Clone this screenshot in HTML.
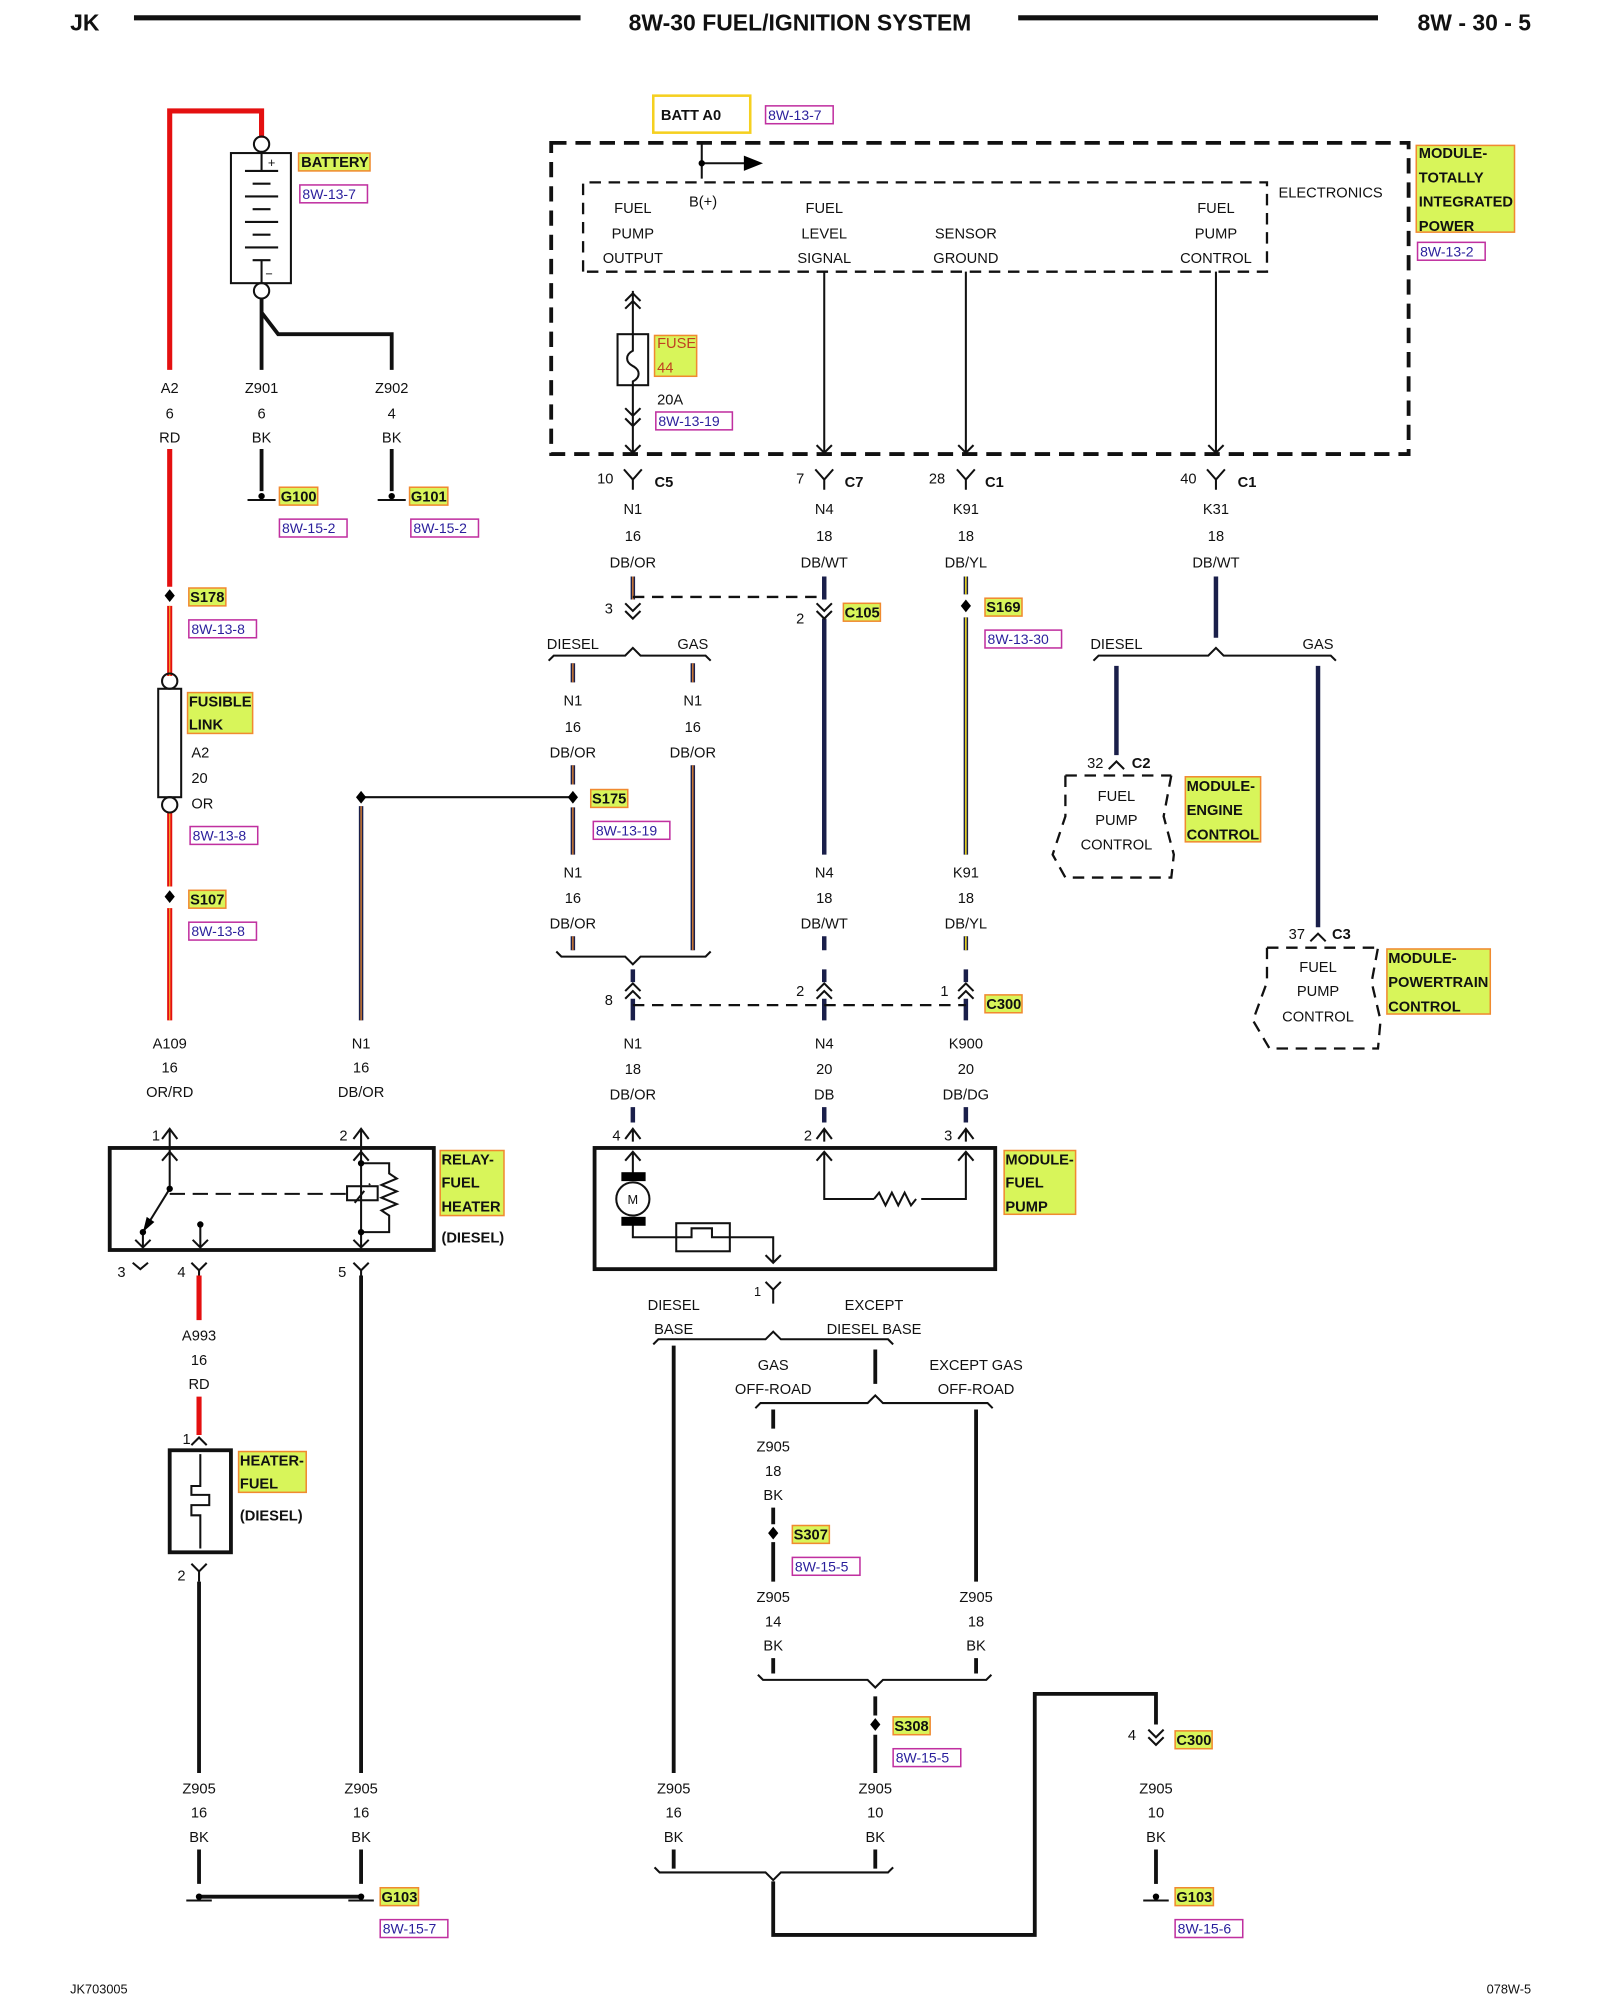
<!DOCTYPE html>
<html><head><meta charset="utf-8"><style>
html,body{margin:0;padding:0;background:#fff}
svg{display:block}
text{font-family:"Liberation Sans",sans-serif;font-size:11.5px;fill:#111}
.c{text-anchor:middle}
.b{font-weight:bold}
.r{fill:#2a1f9c;font-size:11px}
.w{fill:none;stroke:#111;stroke-width:3}
.t{fill:none;stroke:#111;stroke-width:1.6}
.d{fill:none;stroke:#111;stroke-width:3;stroke-dasharray:12 7}
.ds{fill:none;stroke:#111;stroke-width:1.8;stroke-dasharray:9 6}
.red{fill:none;stroke:#e41010;stroke-width:4}
.nv{fill:none;stroke:#1a1f4a;stroke-width:3.5}
.hl{fill:#d8f55a;stroke:#f08a30;stroke-width:1.2}
.rb{fill:none;stroke:#c030a0;stroke-width:1.2}
</style></head><body>
<svg width="1600" height="2000" viewBox="0 0 1254 1568" preserveAspectRatio="none" xmlns="http://www.w3.org/2000/svg">
<!-- header -->
<text x="55" y="24" class="b" style="font-size:18px">JK</text>
<line x1="105" y1="14" x2="455" y2="14" stroke="#111" stroke-width="4"/>
<text x="627" y="24" class="b c" style="font-size:18px">8W-30 FUEL/IGNITION SYSTEM</text>
<line x1="798" y1="14" x2="1080" y2="14" stroke="#111" stroke-width="4"/>
<text x="1200" y="24" class="b" text-anchor="end" style="font-size:18px">8W - 30 - 5</text>
<text x="55" y="1563" style="font-size:10px">JK703005</text>
<text x="1200" y="1563" text-anchor="end" style="font-size:10px">078W-5</text>

<!-- battery -->
<path class="red" d="M133 290 V87 H205 V108"/>
<circle cx="205" cy="113" r="6" class="t" fill="#fff"/>
<rect x="181" y="120" width="47" height="102" class="t"/>
<path class="t" d="M205 119 V134 M192 134 H218 M198 144 H212 M192 154 H218 M198 164 H212 M192 174 H218 M198 184 H212 M192 194 H218 M198 204 H212 M205 204 V222"/>
<text x="210" y="131" style="font-size:10px">+</text><text x="208" y="218" style="font-size:10px">−</text>
<circle cx="205" cy="228" r="6" class="t" fill="#fff"/>
<path class="w" d="M205 234 V290 M205 245 L218 262 H307 V290"/>
<rect x="234" y="120" width="56" height="14" class="hl"/><text x="236" y="131" class="b">BATTERY</text>
<rect x="235" y="145" width="53" height="14" class="rb"/><text x="237" y="156" class="r">8W-13-7</text>
<text x="133" y="308" class="c">A2</text><text x="133" y="328" class="c">6</text><text x="133" y="347" class="c">RD</text>
<text x="205" y="308" class="c">Z901</text><text x="205" y="328" class="c">6</text><text x="205" y="347" class="c">BK</text>
<text x="307" y="308" class="c">Z902</text><text x="307" y="328" class="c">4</text><text x="307" y="347" class="c">BK</text>
<path class="w" d="M205 352 V385 M307 352 V385"/>
<path class="t" d="M194 392 H216 M296 392 H318" stroke-width="2.5"/>
<circle cx="205" cy="389" r="2.5"/><circle cx="307" cy="389" r="2.5"/>
<rect x="219" y="382" width="30" height="14" class="hl"/><text x="220" y="393" class="b">G100</text>
<rect x="219" y="407" width="53" height="14" class="rb"/><text x="221" y="418" class="r">8W-15-2</text>
<rect x="321" y="382" width="30" height="14" class="hl"/><text x="322" y="393" class="b">G101</text>
<rect x="322" y="407" width="53" height="14" class="rb"/><text x="324" y="418" class="r">8W-15-2</text>

<!-- red feed -->
<path class="red" d="M133 352 V460 M133 475 V530 M133 637 V695 M133 712 V800"/>
<path d="M133 475 V530 M133 637 V695 M133 712 V800" stroke="#f5a030" stroke-width="1" fill="none"/>
<path d="M133 462 l4 5 l-4 5 l-4 -5z"/><path d="M133 698 l4 5 l-4 5 l-4 -5z"/>
<rect x="148" y="461" width="29" height="14" class="hl"/><text x="149" y="472" class="b">S178</text>
<rect x="148" y="486" width="53" height="14" class="rb"/><text x="150" y="497" class="r">8W-13-8</text>
<circle cx="133" cy="534" r="6" class="t" fill="#fff"/>
<rect x="124" y="540" width="18" height="85" class="t"/>
<circle cx="133" cy="631" r="6" class="t" fill="#fff"/>
<rect x="147" y="543" width="51" height="32" class="hl"/><text x="148" y="554" class="b">FUSIBLE</text><text x="148" y="572" class="b">LINK</text>
<text x="150" y="594">A2</text><text x="150" y="614">20</text><text x="150" y="634">OR</text>
<rect x="149" y="648" width="53" height="14" class="rb"/><text x="151" y="659" class="r">8W-13-8</text>
<rect x="148" y="698" width="29" height="14" class="hl"/><text x="149" y="709" class="b">S107</text>
<rect x="148" y="723" width="53" height="14" class="rb"/><text x="150" y="734" class="r">8W-13-8</text>
<text x="133" y="822" class="c">A109</text><text x="133" y="841" class="c">16</text><text x="133" y="860" class="c">OR/RD</text>

<!-- N1 to relay -->
<path class="nv" d="M283 632 V800"/><path d="M283 632 V800" stroke="#f08a30" stroke-width="1" fill="none"/>
<path class="t" d="M283 625 H449" stroke-width="2"/><path d="M283 620 l4 5 l-4 5 l-4 -5z"/>
<text x="283" y="822" class="c">N1</text><text x="283" y="841" class="c">16</text><text x="283" y="860" class="c">DB/OR</text>
<path class="t" d="M127 893 l6 -8 l6 8 M133 885 V905 M277 893 l6 -8 l6 8 M283 885 V905" stroke-width="2"/>
<text x="119" y="894">1</text><text x="266" y="894">2</text>

<!-- relay -->
<rect x="86" y="900" width="254" height="80" class="w"/>
<path class="t" d="M127 910 l6 -7 l6 7 M133 903 V932 L112 966 V978 M106 972 l6 6 l6 -6 M157 978 V960 M151 972 l6 6 l6 -6 M277 910 l6 -7 l6 7 M283 903 V978 M277 972 l6 6 l6 -6 M283 912 H305 V920 l6 4 l-12 5 l12 5 l-12 5 l12 5 l-12 5 l6 4 V966 H283" stroke-width="2"/>
<circle cx="133" cy="932" r="2.5"/><circle cx="112" cy="966" r="2.5"/><circle cx="157" cy="960" r="2.5"/><circle cx="283" cy="912" r="2.5"/><circle cx="283" cy="966" r="2.5"/>
<path d="M112 966 l3 -12 l6 4z"/>
<rect x="272" y="930" width="24" height="11" class="t" fill="#fff" stroke-width="2"/>
<path class="t" d="M278 943 L290 928 M133 936 H272" stroke-dasharray="12 6" stroke-width="1.6"/>
<rect x="345" y="902" width="50" height="51" class="hl"/><text x="346" y="913" class="b">RELAY-</text><text x="346" y="931" class="b">FUEL</text><text x="346" y="950" class="b">HEATER</text>
<text x="346" y="974" class="b">(DIESEL)</text>
<path class="t" d="M104 990 l6 5 l6 -5 M150 990 l6 6 l6 -6 M156 996 V1002 M277 990 l6 6 l6 -6 M283 996 V1002" stroke-width="2"/>
<text x="92" y="1001">3</text><text x="139" y="1001">4</text><text x="265" y="1001">5</text>
<path class="red" d="M156 1000 V1035 M156 1095 V1125"/>
<text x="156" y="1051" class="c">A993</text><text x="156" y="1070" class="c">16</text><text x="156" y="1089" class="c">RD</text>
<path class="t" d="M150 1133 l6 -6 l6 6" stroke-width="2"/><text x="143" y="1132">1</text>
<rect x="133" y="1137" width="48" height="80" class="w"/>
<path class="t" d="M157 1140 V1165 H150 V1172 H164 V1180 H150 V1188 H157 V1214" stroke-width="2"/>
<rect x="187" y="1138" width="53" height="32" class="hl"/><text x="188" y="1149" class="b">HEATER-</text><text x="188" y="1167" class="b">FUEL</text>
<text x="188" y="1192" class="b">(DIESEL)</text>
<path class="t" d="M150 1226 l6 6 l6 -6 M156 1232 V1240" stroke-width="2"/><text x="139" y="1239">2</text>
<path class="w" d="M156 1240 V1390 M283 1000 V1390"/>
<text x="156" y="1406" class="c">Z905</text><text x="156" y="1425" class="c">16</text><text x="156" y="1444" class="c">BK</text>
<text x="283" y="1406" class="c">Z905</text><text x="283" y="1425" class="c">16</text><text x="283" y="1444" class="c">BK</text>
<path class="w" d="M156 1450 V1477 M283 1450 V1477 M156 1487 H283" />
<path class="t" d="M146 1490 H166 M273 1490 H293" stroke-width="2.5"/>
<rect x="298" y="1480" width="30" height="14" class="hl"/><text x="299" y="1491" class="b">G103</text>
<rect x="298" y="1505" width="53" height="14" class="rb"/><text x="300" y="1516" class="r">8W-15-7</text>

<!-- TIPM -->
<rect x="432" y="112" width="672" height="244" class="d"/>
<rect x="512" y="75" width="76" height="29" fill="#fff" stroke="#f5d020" stroke-width="2"/><text x="518" y="94" class="b">BATT A0</text>
<rect x="600" y="83" width="53" height="14" class="rb"/><text x="602" y="94" class="r">8W-13-7</text>
<path class="t" d="M550 112 V140 M550 128 H585" stroke-width="2"/><path d="M583 122 L598 128 L583 134z"/><circle cx="550" cy="128" r="2.5"/>
<text x="540" y="162">B(+)</text>
<path class="ds" d="M457 213 V143 H993 V213 H457"/>
<text x="1002" y="155">ELECTRONICS</text>
<text x="496" y="167" class="c">FUEL</text><text x="496" y="187" class="c">PUMP</text><text x="496" y="206" class="c">OUTPUT</text>
<text x="646" y="167" class="c">FUEL</text><text x="646" y="187" class="c">LEVEL</text><text x="646" y="206" class="c">SIGNAL</text>
<text x="757" y="187" class="c">SENSOR</text><text x="757" y="206" class="c">GROUND</text>
<text x="953" y="167" class="c">FUEL</text><text x="953" y="187" class="c">PUMP</text><text x="953" y="206" class="c">CONTROL</text>
<rect x="1110" y="114" width="77" height="68" class="hl"/><text x="1112" y="124" class="b">MODULE-</text><text x="1112" y="143" class="b">TOTALLY</text><text x="1112" y="162" class="b">INTEGRATED</text><text x="1112" y="181" class="b">POWER</text>
<rect x="1111" y="190" width="53" height="14" class="rb"/><text x="1113" y="201" class="r">8W-13-2</text>
<path class="t" d="M496 228 V262 M490 236 l6 -6 l6 6 M490 242 l6 -6 l6 6 M496 302 V356 M490 320 l6 6 l6 -6 M490 328 l6 6 l6 -6 M646 213 V356 M757 213 V356 M953 213 V356 M640 349 l6 6 l6 -6 M751 349 l6 6 l6 -6 M947 349 l6 6 l6 -6 M490 349 l6 6 l6 -6" stroke-width="2"/>
<rect x="484" y="262" width="24" height="40" class="t" stroke-width="2"/>
<path class="t" d="M496 262 V275 c-6 3 -6 9 0 12 c6 3 6 9 0 12 V302" stroke-width="1.5"/>
<rect x="513" y="263" width="33" height="32" class="hl"/><text x="515" y="273" style="fill:#c04020">FUSE</text><text x="515" y="292" style="fill:#c04020">44</text>
<text x="515" y="317">20A</text>
<rect x="514" y="323" width="60" height="14" class="rb"/><text x="516" y="334" class="r">8W-13-19</text>
<!-- connectors row -->
<path class="t" d="M489 368 l7 8 l7 -8 M496 376 V384 M639 368 l7 8 l7 -8 M646 376 V384 M750 368 l7 8 l7 -8 M757 376 V384 M946 368 l7 8 l7 -8 M953 376 V384" stroke-width="2.2"/>
<text x="468" y="379">10</text><text x="513" y="382" class="b">C5</text>
<text x="624" y="379">7</text><text x="662" y="382" class="b">C7</text>
<text x="728" y="379">28</text><text x="772" y="382" class="b">C1</text>
<text x="925" y="379">40</text><text x="970" y="382" class="b">C1</text>
<text x="496" y="403" class="c">N1</text><text x="496" y="424" class="c">16</text><text x="496" y="445" class="c">DB/OR</text>
<text x="646" y="403" class="c">N4</text><text x="646" y="424" class="c">18</text><text x="646" y="445" class="c">DB/WT</text>
<text x="757" y="403" class="c">K91</text><text x="757" y="424" class="c">18</text><text x="757" y="445" class="c">DB/YL</text>
<text x="953" y="403" class="c">K31</text><text x="953" y="424" class="c">18</text><text x="953" y="445" class="c">DB/WT</text>
<path class="nv" d="M496 452 V470 M646 452 V470 M757 452 V466 M646 485 V670 M757 484 V670 M953 452 V500 M449 520 V535 M543 520 V535 M449 600 V615 M449 633 V670 M543 600 V745 M449 734 V745 M646 734 V745 M757 734 V745 M875 522 V592 M1033 522 V727"/>
<path d="M496 452 V470 M449 520 V535 M543 520 V535 M449 600 V615 M449 633 V670 M543 600 V745 M449 734 V745" stroke="#f08a30" stroke-width="1" fill="none"/>
<path d="M757 452 V466 M757 484 V670 M757 734 V745" stroke="#f5e020" stroke-width="1.2" fill="none"/>
<path class="t" d="M490 473 l6 6 l6 -6 M490 479 l6 6 l6 -6 M640 473 l6 6 l6 -6 M640 479 l6 6 l6 -6" stroke-width="2"/>
<path class="ds" d="M496 468 H646"/>
<text x="474" y="481">3</text><text x="624" y="489">2</text>
<rect x="661" y="473" width="29" height="14" class="hl"/><text x="662" y="484" class="b">C105</text>
<path d="M757 470 l4 5 l-4 5 l-4 -5z"/>
<rect x="772" y="469" width="29" height="14" class="hl"/><text x="773" y="480" class="b">S169</text>
<rect x="772" y="494" width="60" height="14" class="rb"/><text x="774" y="505" class="r">8W-13-30</text>
<!-- splices -->
<path class="t" d="M430 518 l4 -4 H490 l6 -6 l6 6 H553 l4 4 M857 518 l4 -4 H947 l6 -6 l6 6 H1043 l4 4" stroke-width="1.6"/>
<text x="449" y="509" class="c">DIESEL</text><text x="543" y="509" class="c">GAS</text>
<text x="875" y="509" class="c">DIESEL</text><text x="1033" y="509" class="c">GAS</text>
<text x="449" y="553" class="c">N1</text><text x="449" y="574" class="c">16</text><text x="449" y="594" class="c">DB/OR</text>
<text x="543" y="553" class="c">N1</text><text x="543" y="574" class="c">16</text><text x="543" y="594" class="c">DB/OR</text>
<path d="M449 620 l4 5 l-4 5 l-4 -5z"/>
<rect x="463" y="619" width="29" height="14" class="hl"/><text x="464" y="630" class="b">S175</text>
<rect x="465" y="644" width="60" height="14" class="rb"/><text x="467" y="655" class="r">8W-13-19</text>
<text x="449" y="688" class="c">N1</text><text x="449" y="708" class="c">16</text><text x="449" y="728" class="c">DB/OR</text>
<text x="646" y="688" class="c">N4</text><text x="646" y="708" class="c">18</text><text x="646" y="728" class="c">DB/WT</text>
<text x="757" y="688" class="c">K91</text><text x="757" y="708" class="c">18</text><text x="757" y="728" class="c">DB/YL</text>
<path class="t" d="M436 746 l4 4 H490 l6 6 l6 -6 H553 l4 -4" stroke-width="1.6"/>
<!-- C300 -->
<path class="t" d="M490 777 l6 -6 l6 6 M490 783 l6 -6 l6 6 M640 777 l6 -6 l6 6 M640 783 l6 -6 l6 6 M751 777 l6 -6 l6 6 M751 783 l6 -6 l6 6" stroke-width="2"/>
<path class="nv" d="M496 760 V770 M496 783 V800 M646 760 V770 M646 783 V800 M757 760 V770 M757 783 V800"/>
<path class="ds" d="M496 788 H757"/>
<text x="474" y="788">8</text><text x="624" y="781">2</text><text x="737" y="781">1</text>
<rect x="772" y="780" width="29" height="14" class="hl"/><text x="773" y="791" class="b">C300</text>
<text x="496" y="822" class="c">N1</text><text x="496" y="842" class="c">18</text><text x="496" y="862" class="c">DB/OR</text>
<text x="646" y="822" class="c">N4</text><text x="646" y="842" class="c">20</text><text x="646" y="862" class="c">DB</text>
<text x="757" y="822" class="c">K900</text><text x="757" y="842" class="c">20</text><text x="757" y="862" class="c">DB/DG</text>
<path class="nv" d="M496 868 V880 M646 868 V880 M757 868 V880"/>
<path class="t" d="M490 893 l6 -8 l6 8 M496 885 V895 M640 893 l6 -8 l6 8 M646 885 V895 M751 893 l6 -8 l6 8 M757 885 V895" stroke-width="2"/>
<text x="480" y="894">4</text><text x="630" y="894">2</text><text x="740" y="894">3</text>
<!-- fuel pump module -->
<rect x="466" y="900" width="314" height="95" class="w"/>
<path class="t" d="M490 910 l6 -7 l6 7 M496 903 V920 M640 910 l6 -7 l6 7 M646 903 V940 H685 M722 940 H757 V903 M751 910 l6 -7 l6 7 M685 940 l4 -5 l5 10 l5 -10 l5 10 l5 -10 l5 10 l4 -5 M496 960 V970 H530 M572 970 H606 V990 M600 984 l6 6 l6 -6" stroke-width="2"/>
<rect x="487" y="919" width="19" height="7"/><rect x="487" y="954" width="19" height="7"/>
<circle cx="496" cy="940" r="13" class="t" fill="#fff" stroke-width="2"/>
<text x="496" y="944" class="c" style="font-size:10px">M</text>
<rect x="530" y="959" width="42" height="22" class="t" stroke-width="2"/>
<path class="t" d="M530 970 H542 V963 H558 V970 H572" stroke-width="2"/>
<rect x="787" y="902" width="56" height="50" class="hl"/><text x="788" y="913" class="b">MODULE-</text><text x="788" y="931" class="b">FUEL</text><text x="788" y="950" class="b">PUMP</text>
<path class="t" d="M600 1005 l6 6 l6 -6 M606 1011 V1022" stroke-width="2"/><text x="591" y="1016" style="font-size:10px">1</text>
<text x="528" y="1027" class="c">DIESEL</text><text x="528" y="1046" class="c">BASE</text>
<text x="685" y="1027" class="c">EXCEPT</text><text x="685" y="1046" class="c">DIESEL BASE</text>
<path class="t" d="M512 1054 l4 -4 H600 l6 -6 l6 6 H696 l4 4" stroke-width="1.6"/>
<path class="w" d="M528 1055 V1390 M686 1058 V1085"/>
<text x="606" y="1074" class="c">GAS</text><text x="606" y="1093" class="c">OFF-ROAD</text>
<text x="765" y="1074" class="c">EXCEPT GAS</text><text x="765" y="1093" class="c">OFF-ROAD</text>
<path class="t" d="M592 1104 l4 -4 H680 l6 -6 l6 6 H774 l4 4" stroke-width="1.6"/>
<path class="w" d="M606 1105 V1120 M606 1182 V1195 M606 1209 V1240 M765 1105 V1240 M606 1300 V1312 M765 1300 V1312 M686 1330 V1345 M686 1360 V1390 M528 1450 V1465 M686 1450 V1465"/>
<text x="606" y="1138" class="c">Z905</text><text x="606" y="1157" class="c">18</text><text x="606" y="1176" class="c">BK</text>
<path d="M606 1197 l4 5 l-4 5 l-4 -5z"/>
<rect x="621" y="1196" width="29" height="14" class="hl"/><text x="622" y="1207" class="b">S307</text>
<rect x="621" y="1221" width="53" height="14" class="rb"/><text x="623" y="1232" class="r">8W-15-5</text>
<text x="606" y="1256" class="c">Z905</text><text x="606" y="1275" class="c">14</text><text x="606" y="1294" class="c">BK</text>
<text x="765" y="1256" class="c">Z905</text><text x="765" y="1275" class="c">18</text><text x="765" y="1294" class="c">BK</text>
<path class="t" d="M594 1313 l4 4 H680 l6 6 l6 -6 H773 l4 -4" stroke-width="1.6"/>
<path d="M686 1347 l4 5 l-4 5 l-4 -5z"/>
<rect x="700" y="1346" width="29" height="14" class="hl"/><text x="701" y="1357" class="b">S308</text>
<rect x="700" y="1371" width="53" height="14" class="rb"/><text x="702" y="1382" class="r">8W-15-5</text>
<text x="528" y="1406" class="c">Z905</text><text x="528" y="1425" class="c">16</text><text x="528" y="1444" class="c">BK</text>
<text x="686" y="1406" class="c">Z905</text><text x="686" y="1425" class="c">10</text><text x="686" y="1444" class="c">BK</text>
<path class="t" d="M513 1464 l4 4 H600 l6 6 l6 -6 H696 l4 -4" stroke-width="1.6"/>
<path class="w" d="M606 1475 V1517 H811 V1328 H906 V1352"/>
<path class="t" d="M900 1356 l6 6 l6 -6 M900 1362 l6 6 l6 -6" stroke-width="2"/>
<text x="884" y="1364">4</text>
<rect x="921" y="1357" width="29" height="14" class="hl"/><text x="922" y="1368" class="b">C300</text>
<text x="906" y="1406" class="c">Z905</text><text x="906" y="1425" class="c">10</text><text x="906" y="1444" class="c">BK</text>
<path class="w" d="M906 1450 V1477"/><path class="t" d="M896 1490 H916" stroke-width="2.5"/><circle cx="906" cy="1487" r="2.5"/>
<circle cx="156" cy="1487" r="2.5"/><circle cx="283" cy="1487" r="2.5"/>
<rect x="921" y="1480" width="30" height="14" class="hl"/><text x="922" y="1491" class="b">G103</text>
<rect x="921" y="1505" width="53" height="14" class="rb"/><text x="923" y="1516" class="r">8W-15-6</text>

<!-- ECM / PCM -->
<path class="t" d="M869 603 l6 -6 l6 6" stroke-width="2"/>
<text x="852" y="602">32</text><text x="887" y="602" class="b">C2</text>
<path class="ds" d="M835 608 H918 M835 608 V640 L825 670 L835 688 H918 L920 670 L912 640 L918 608" />
<text x="875" y="628" class="c">FUEL</text><text x="875" y="647" class="c">PUMP</text><text x="875" y="666" class="c">CONTROL</text>
<rect x="929" y="609" width="59" height="51" class="hl"/><text x="930" y="620" class="b">MODULE-</text><text x="930" y="639" class="b">ENGINE</text><text x="930" y="658" class="b">CONTROL</text>
<path class="t" d="M1027 738 l6 -6 l6 6" stroke-width="2"/>
<text x="1010" y="736">37</text><text x="1044" y="736" class="b">C3</text>
<path class="ds" d="M993 743 H1080 M993 743 V770 L982 800 L995 822 H1080 L1082 800 L1075 770 L1080 743"/>
<text x="1033" y="762" class="c">FUEL</text><text x="1033" y="781" class="c">PUMP</text><text x="1033" y="801" class="c">CONTROL</text>
<rect x="1087" y="744" width="81" height="51" class="hl"/><text x="1088" y="755" class="b">MODULE-</text><text x="1088" y="774" class="b">POWERTRAIN</text><text x="1088" y="793" class="b">CONTROL</text>
</svg>
</body></html>
